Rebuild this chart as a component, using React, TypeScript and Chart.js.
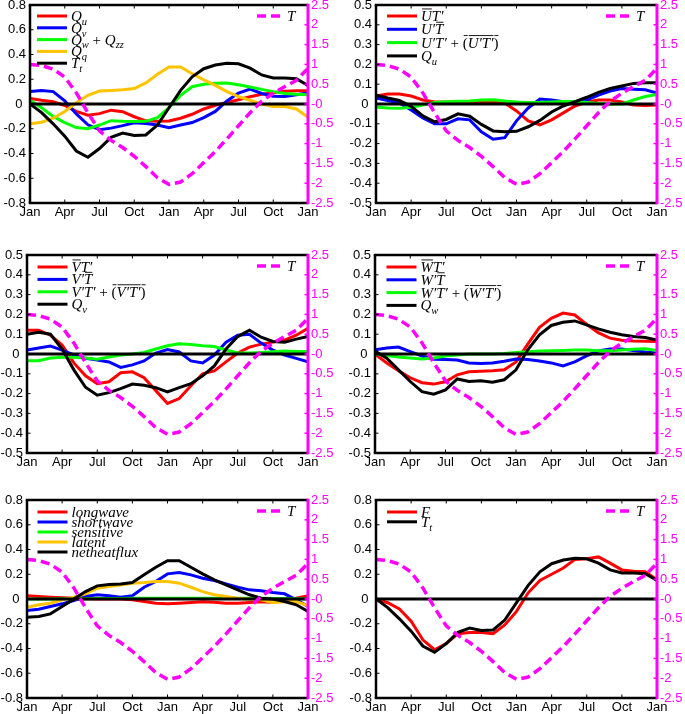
import React, { useEffect, useRef } from 'react';
import { Chart, registerables } from 'chart.js';

Chart.register(...registerables);

// ---------- axes ----------
const MONTH_INDEX = [0, 1, 2, 3, 4, 5, 6, 7, 8, 9, 10, 11, 12, 13, 14, 15, 16, 17, 18, 19, 20, 21, 22, 23, 24];
const MONTH_TICK_VALUES = [0, 3, 6, 9, 12, 15, 18, 21, 24];
const MONTH_TICK_LABELS = ['Jan', 'Apr', 'Jul', 'Oct', 'Jan', 'Apr', 'Jul', 'Oct', 'Jan'];
const T_TICK_VALUES = [-2.5, -2, -1.5, -1, -0.5, 0, 0.5, 1, 1.5, 2, 2.5];
const T_TICK_LABELS = ['-2.5', '-2', '-1.5', '-1', '-0.5', '-0', '0.5', '1', '1.5', '2', '2.5'];
const FLUX_TICKS_08 = [-0.8, -0.6, -0.4, -0.2, 0, 0.2, 0.4, 0.6, 0.8];
const FLUX_LABELS_08 = ['-0.8', '-0.6', '-0.4', '-0.2', '0 ', '0.2', '0.4', '0.6', '0.8'];
const FLUX_TICKS_05 = [-0.5, -0.4, -0.3, -0.2, -0.1, 0, 0.1, 0.2, 0.3, 0.4, 0.5];
const FLUX_LABELS_05 = ['-0.5', '-0.4', '-0.3', '-0.2', '-0.1', '0 ', '0.1', '0.2', '0.3', '0.4', '0.5'];
const ZERO_X = [0, 24];
const ZERO_Y = [0, 0];

// ---------- temperature anomaly (right axis) ----------
const T_ANOMALY = [1.0, 0.97, 0.88, 0.68, 0.28, -0.22, -0.68, -0.92, -1.1, -1.32, -1.58, -1.86, -2.03, -1.97, -1.76, -1.48, -1.2, -0.88, -0.55, -0.22, 0.07, 0.27, 0.44, 0.6, 0.9];

// ---------- panel a ----------
const QU = [0.045, 0.03, 0.018, -0.012, -0.06, -0.09, -0.078, -0.05, -0.062, -0.103, -0.136, -0.14, -0.138, -0.115, -0.083, -0.04, -0.01, 0.012, 0.034, 0.059, 0.078, 0.091, 0.104, 0.107, 0.107];
const QV = [0.1, 0.11, 0.1, 0.025, -0.08, -0.168, -0.208, -0.195, -0.175, -0.152, -0.158, -0.17, -0.192, -0.17, -0.15, -0.11, -0.06, 0.025, 0.088, 0.12, 0.085, 0.063, 0.06, 0.075, 0.088];
const QW_QZZ = [0.03, -0.03, -0.1, -0.15, -0.19, -0.2, -0.17, -0.135, -0.14, -0.142, -0.14, -0.11, -0.03, 0.07, 0.14, 0.16, 0.167, 0.17, 0.155, 0.137, 0.118, 0.1, 0.085, 0.078, 0.074];
const QQ = [-0.16, -0.147, -0.115, -0.06, 0.01, 0.07, 0.105, 0.11, 0.115, 0.125, 0.17, 0.24, 0.3, 0.3, 0.245, 0.195, 0.15, 0.1, 0.06, 0.03, 0.0, -0.02, -0.02, -0.04, -0.107];
const TT = [0, -0.07, -0.16, -0.26, -0.38, -0.43, -0.36, -0.27, -0.235, -0.255, -0.25, -0.17, -0.03, 0.11, 0.22, 0.285, 0.315, 0.33, 0.325, 0.29, 0.235, 0.21, 0.21, 0.205, 0.15];

// ---------- panel b ----------
const UBAR_TP = [0.04, 0.05, 0.05, 0.04, 0.02, 0.01, 0.01, 0.01, 0.01, 0.01, 0.01, 0.005, -0.035, -0.085, -0.105, -0.08, -0.045, -0.01, 0.01, 0.02, 0.02, 0.01, -0.005, -0.008, -0.005];
const UP_TBAR = [0.03, 0.018, 0.005, -0.03, -0.07, -0.1, -0.1, -0.075, -0.08, -0.14, -0.178, -0.17, -0.085, -0.02, 0.025, 0.02, 0.012, 0.012, 0.02, 0.045, 0.065, 0.078, 0.075, 0.072, 0.055];
const UPTP_EDDY = [-0.015, -0.02, -0.022, -0.017, -0.005, 0.008, 0.012, 0.014, 0.015, 0.02, 0.022, 0.015, 0.01, 0.007, 0.008, 0.01, 0.012, 0.012, 0.008, 0.003, 0.0, 0.0, 0.02, 0.038, 0.048];

// ---------- panel c ----------
const VBAR_TP = [0.12, 0.12, 0.095, 0.045, -0.045, -0.11, -0.15, -0.14, -0.095, -0.09, -0.12, -0.185, -0.25, -0.225, -0.16, -0.1, -0.085, -0.04, 0.005, 0.035, 0.05, 0.06, 0.07, 0.095, 0.13];
const VP_TBAR = [0.02, 0.03, 0.04, 0.02, -0.005, -0.022, -0.03, -0.04, -0.068, -0.055, -0.035, 0.005, 0.022, 0.01, -0.035, -0.045, -0.005, 0.06, 0.095, 0.1, 0.055, 0.02, -0.005, -0.022, -0.04];
const VPTP_EDDY = [-0.034, -0.034, -0.02, -0.017, -0.017, -0.02, -0.026, -0.015, -0.005, 0.0, 0.008, 0.025, 0.042, 0.052, 0.048, 0.042, 0.038, 0.02, 0.005, 0.005, 0.008, 0.012, 0.015, 0.013, 0.012];

// ---------- panel d ----------
const WBAR_TP = [0.0, -0.045, -0.085, -0.12, -0.145, -0.152, -0.14, -0.105, -0.09, -0.087, -0.085, -0.08, -0.04, 0.05, 0.135, 0.18, 0.207, 0.197, 0.15, 0.108, 0.08, 0.07, 0.066, 0.065, 0.063];
const WP_TBAR = [0.022, 0.03, 0.035, 0.012, -0.01, -0.027, -0.028, -0.03, -0.045, -0.048, -0.045, -0.037, -0.025, -0.028, -0.035, -0.045, -0.06, -0.04, -0.01, 0.015, 0.025, 0.025, 0.018, 0.01, 0.005];
const WPTP_EDDY = [0.0, -0.008, -0.015, -0.02, -0.025, -0.02, -0.01, -0.005, 0.0, 0.0, 0.0, 0.003, 0.008, 0.012, 0.015, 0.017, 0.018, 0.02, 0.02, 0.017, 0.017, 0.02, 0.024, 0.027, 0.018];
const QW = [0.015, -0.021, -0.08, -0.139, -0.19, -0.203, -0.181, -0.126, -0.139, -0.135, -0.142, -0.13, -0.08, 0.021, 0.097, 0.144, 0.16, 0.167, 0.147, 0.127, 0.11, 0.097, 0.088, 0.083, 0.071];

// ---------- panel e ----------
const LONGWAVE = [0.026, 0.02, 0.015, 0.01, 0.007, 0.003, 0.0, 0.0, 0.0, -0.007, -0.02, -0.034, -0.039, -0.034, -0.028, -0.023, -0.026, -0.034, -0.034, -0.028, -0.023, -0.026, -0.012, 0.007, 0.026];
const SHORTWAVE = [-0.093, -0.082, -0.06, -0.039, -0.012, 0.02, 0.034, 0.026, 0.015, 0.026, 0.095, 0.141, 0.203, 0.214, 0.195, 0.168, 0.149, 0.122, 0.095, 0.074, 0.066, 0.052, 0.042, -0.007, -0.06];
const SENSIBLE = [0.0, 0.0, 0.001, 0.002, 0.003, 0.003, 0.004, 0.005, 0.005, 0.006, 0.006, 0.006, 0.006, 0.006, 0.006, 0.006, 0.006, 0.006, 0.006, 0.006, 0.006, 0.005, 0.004, 0.003, 0.002];
const LATENT = [-0.066, -0.047, -0.034, -0.007, 0.015, 0.042, 0.087, 0.101, 0.114, 0.128, 0.133, 0.141, 0.141, 0.128, 0.095, 0.06, 0.034, 0.02, 0.007, -0.001, -0.007, -0.028, -0.023, -0.02, -0.055];
const NETHEATFLUX = [-0.147, -0.141, -0.12, -0.06, -0.001, 0.06, 0.106, 0.117, 0.122, 0.133, 0.195, 0.257, 0.31, 0.31, 0.257, 0.203, 0.155, 0.114, 0.074, 0.034, 0.007, -0.001, -0.02, -0.047, -0.1];

// ---------- panel f ----------
const F_FORCING = [0, -0.03, -0.08, -0.18, -0.33, -0.41, -0.36, -0.28, -0.27, -0.27, -0.28, -0.21, -0.1, 0.05, 0.15, 0.2, 0.25, 0.32, 0.325, 0.34, 0.29, 0.235, 0.225, 0.22, 0.155];

// ---------- styling ----------
const RED = '#ff0000';
const BLUE = '#0000ff';
const GREEN = '#00ff00';
const YELLOW = '#ffc300';
const BLACK = '#000000';
const MAGENTA = '#ff00ff';

type Seg = { t: string; sub?: boolean; over?: boolean; up?: boolean };
interface SeriesDef { label: Seg[]; data: number[]; color: string }
interface PanelDef {
  id: string; x: number; y: number; w: number; h: number; padTop: number;
  leftW: number; rightW: number; xH: number;
  yVals: number[]; yLabels: string[];
  legendX: number; legendY0: number; legendGap: number; fontSize: number;
  series: SeriesDef[];
}

const L_QU: Seg[] = [{ t: 'Q' }, { t: 'u', sub: true }];
const L_QV: Seg[] = [{ t: 'Q' }, { t: 'v', sub: true }];
const L_QW: Seg[] = [{ t: 'Q' }, { t: 'w', sub: true }];
const L_TT: Seg[] = [{ t: 'T' }, { t: 't', sub: true }];

function eddyLabel(c: string): Seg[] {
  return [
    { t: c + '′T′' }, { t: ' + ', up: true },
    { t: '(', up: true, over: true }, { t: c + '′T′', over: true }, { t: ')', up: true, over: true },
  ];
}

const PANELS: PanelDef[] = [
  {
    id: 'a', x: 0, y: -10, w: 342, h: 232, padTop: 15, leftW: 30, rightW: 34, xH: 19,
    yVals: FLUX_TICKS_08, yLabels: FLUX_LABELS_08, legendX: 7, legendY0: 11, legendGap: 11.8, fontSize: 15,
    series: [
      { label: L_QU, data: QU, color: RED },
      { label: L_QV, data: QV, color: BLUE },
      { label: [{ t: 'Q' }, { t: 'w', sub: true }, { t: ' + ', up: true }, { t: 'Q' }, { t: 'zz', sub: true }], data: QW_QZZ, color: GREEN },
      { label: [{ t: 'Q' }, { t: 'q', sub: true }], data: QQ, color: YELLOW },
      { label: L_TT, data: TT, color: BLACK },
    ],
  },
  {
    id: 'b', x: 345, y: -10, w: 340, h: 232, padTop: 15, leftW: 31, rightW: 28, xH: 19,
    yVals: FLUX_TICKS_05, yLabels: FLUX_LABELS_05, legendX: 11, legendY0: 11, legendGap: 13.3, fontSize: 15,
    series: [
      { label: [{ t: 'U', over: true }, { t: 'T′' }], data: UBAR_TP, color: RED },
      { label: [{ t: 'U′' }, { t: 'T', over: true }], data: UP_TBAR, color: BLUE },
      { label: eddyLabel('U'), data: UPTP_EDDY, color: GREEN },
      { label: L_QU, data: QU, color: BLACK },
    ],
  },
  {
    id: 'c', x: 0, y: 240, w: 342, h: 232, padTop: 15, leftW: 27, rightW: 34, xH: 19,
    yVals: FLUX_TICKS_05, yLabels: FLUX_LABELS_05, legendX: 10.5, legendY0: 12, legendGap: 12.4, fontSize: 15,
    series: [
      { label: [{ t: 'V', over: true }, { t: 'T′' }], data: VBAR_TP, color: RED },
      { label: [{ t: 'V′' }, { t: 'T', over: true }], data: VP_TBAR, color: BLUE },
      { label: eddyLabel('V'), data: VPTP_EDDY, color: GREEN },
      { label: L_QV, data: QV, color: BLACK },
    ],
  },
  {
    id: 'd', x: 345, y: 240, w: 340, h: 232, padTop: 15, leftW: 30, rightW: 28, xH: 19,
    yVals: FLUX_TICKS_05, yLabels: FLUX_LABELS_05, legendX: 11.5, legendY0: 12, legendGap: 12.8, fontSize: 15,
    series: [
      { label: [{ t: 'W', over: true }, { t: 'T′' }], data: WBAR_TP, color: RED },
      { label: [{ t: 'W′' }, { t: 'T', over: true }], data: WP_TBAR, color: BLUE },
      { label: eddyLabel('W'), data: WPTP_EDDY, color: GREEN },
      { label: L_QW, data: QW, color: BLACK },
    ],
  },
  {
    id: 'e', x: 0, y: 485, w: 342, h: 229, padTop: 15, leftW: 27, rightW: 34, xH: 16,
    yVals: FLUX_TICKS_08, yLabels: FLUX_LABELS_08, legendX: 10.5, legendY0: 12, legendGap: 10, fontSize: 15,
    series: [
      { label: [{ t: 'longwave' }], data: LONGWAVE, color: RED },
      { label: [{ t: 'shortwave' }], data: SHORTWAVE, color: BLUE },
      { label: [{ t: 'sensitive' }], data: SENSIBLE, color: GREEN },
      { label: [{ t: 'latent' }], data: LATENT, color: YELLOW },
      { label: [{ t: 'netheatflux' }], data: NETHEATFLUX, color: BLACK },
    ],
  },
  {
    id: 'f', x: 345, y: 485, w: 340, h: 229, padTop: 15, leftW: 31, rightW: 28, xH: 16,
    yVals: FLUX_TICKS_08, yLabels: FLUX_LABELS_08, legendX: 11, legendY0: 12, legendGap: 9.8, fontSize: 15,
    series: [
      { label: [{ t: 'F' }], data: F_FORCING, color: RED },
      { label: L_TT, data: TT, color: BLACK },
    ],
  },
];

const SERIF = '"Liberation Serif", "DejaVu Serif", serif';
const SANS = '"Liberation Sans", Arial, sans-serif';

function drawMath(ctx: CanvasRenderingContext2D, segs: Seg[], x: number, y: number, size: number) {
  let cx = x;
  const base = y + size * 0.33;
  ctx.fillStyle = BLACK;
  ctx.textAlign = 'left';
  ctx.textBaseline = 'alphabetic';
  for (const s of segs) {
    const fs = s.sub ? size * 0.7 : size;
    ctx.font = `${s.up ? '' : 'italic '}${fs}px ${SERIF}`;
    const dy = s.sub ? size * 0.25 : 0;
    ctx.fillText(s.t, cx, base + dy);
    const w = ctx.measureText(s.t).width;
    if (s.over) {
      ctx.strokeStyle = BLACK;
      ctx.lineWidth = 0.9;
      ctx.beginPath();
      const oy = base - size * 0.8;
      ctx.moveTo(cx + 1, oy);
      ctx.lineTo(cx + w, oy);
      ctx.stroke();
    }
    cx += w;
  }
}

function Panel({ p }: { p: PanelDef }) {
  const ref = useRef<HTMLCanvasElement>(null);
  useEffect(() => {
    const canvas = ref.current;
    if (!canvas) return;
    const toPts = (ys: number[]) => ys.map((y, i) => ({ x: MONTH_INDEX[i], y }));
    const n = p.series.length;
    const datasets: any[] = p.series.map((s, i) => ({
      data: toPts(s.data), borderColor: s.color, borderWidth: 3, pointRadius: 0,
      tension: 0, fill: false, yAxisID: 'y', order: 2 + (n - i),
    }));
    datasets.push({
      data: ZERO_X.map((x, i) => ({ x, y: ZERO_Y[i] })), borderColor: BLACK, borderWidth: 3,
      pointRadius: 0, tension: 0, fill: false, yAxisID: 'y', order: 1,
    });
    datasets.push({
      data: toPts(T_ANOMALY), borderColor: MAGENTA, borderWidth: 3.5, borderDash: [9, 5],
      pointRadius: 0, tension: 0, fill: false, yAxisID: 'y2', order: 0,
    });

    const framePlugin = {
      id: 'frame' + p.id,
      afterDatasetsDraw(chart: any) {
        const { ctx, chartArea: a, scales } = chart;
        ctx.save();
        ctx.setLineDash([]);
        ctx.lineCap = 'butt';
        const line = (x1: number, y1: number, x2: number, y2: number) => {
          ctx.beginPath(); ctx.moveTo(x1, y1); ctx.lineTo(x2, y2); ctx.stroke();
        };
        const tl = 3.5;
        ctx.strokeStyle = BLACK; ctx.lineWidth = 1;
        for (const v of MONTH_TICK_VALUES) {
          const x = scales.x.getPixelForValue(v);
          line(x, a.bottom, x, a.bottom - tl);
          line(x, a.top, x, a.top + tl);
        }
        for (const v of p.yVals) {
          const y = scales.y.getPixelForValue(v);
          line(a.left, y, a.left + tl, y);
        }
        ctx.strokeStyle = MAGENTA; ctx.lineWidth = 1.5;
        for (const v of T_TICK_VALUES) {
          const y = scales.y2.getPixelForValue(v);
          line(a.right, y, a.right - tl, y);
        }
        ctx.strokeStyle = BLACK; ctx.lineWidth = 2.5;
        line(a.left - 1.25, a.top, a.right, a.top);
        line(a.left - 1.25, a.bottom, a.right, a.bottom);
        line(a.left, a.top, a.left, a.bottom);
        ctx.strokeStyle = MAGENTA; ctx.lineWidth = 3;
        line(a.right, a.top - 1.25, a.right, a.bottom + 1.25);
        ctx.restore();
      },
    };

    const legendPlugin = {
      id: 'mathLegend' + p.id,
      afterDraw(chart: any) {
        const { ctx, chartArea: a } = chart;
        ctx.save();
        const x0 = a.left + p.legendX;
        p.series.forEach((s, i) => {
          const y = a.top + p.legendY0 + i * p.legendGap;
          ctx.strokeStyle = s.color; ctx.lineWidth = 3; ctx.setLineDash([]);
          ctx.beginPath(); ctx.moveTo(x0, y); ctx.lineTo(x0 + 30, y); ctx.stroke();
          drawMath(ctx, s.label, x0 + 34, y, p.fontSize);
        });
        const ty = a.top + 11;
        ctx.strokeStyle = MAGENTA; ctx.lineWidth = 3.5; ctx.setLineDash([9, 5]);
        ctx.beginPath(); ctx.moveTo(a.right - 51, ty); ctx.lineTo(a.right - 26, ty); ctx.stroke();
        ctx.setLineDash([]);
        drawMath(ctx, [{ t: 'T' }], a.right - 21, ty, 15);
        ctx.restore();
      },
    };

    const tickFont = { family: SANS, size: 13 };
    const chart = new Chart(canvas, {
      type: 'line',
      data: { datasets },
      options: {
        responsive: false,
        animation: false,
        devicePixelRatio: 1,
        events: [],
        layout: { padding: { top: p.padTop, left: 0, right: 0, bottom: 0 } },
        plugins: { legend: { display: false }, tooltip: { enabled: false } },
        scales: {
          x: {
            type: 'linear', min: 0, max: 24,
            grid: { display: false, drawTicks: false }, border: { display: false },
            afterBuildTicks: (s: any) => { s.ticks = MONTH_TICK_VALUES.map((v) => ({ value: v })); },
            afterFit: (s: any) => { s.height = p.xH; },
            ticks: {
              autoSkip: false, maxRotation: 0, minRotation: 0, padding: 2, color: BLACK, font: tickFont,
              callback: (_v: any, i: number) => MONTH_TICK_LABELS[i],
            },
          },
          y: {
            type: 'linear', position: 'left', min: p.yVals[0], max: p.yVals[p.yVals.length - 1],
            grid: { display: false, drawTicks: false }, border: { display: false },
            afterBuildTicks: (s: any) => { s.ticks = p.yVals.map((v) => ({ value: v })); },
            afterFit: (s: any) => { s.width = p.leftW; },
            ticks: {
              autoSkip: false, padding: 4, color: BLACK, font: tickFont,
              callback: (_v: any, i: number) => p.yLabels[i],
            },
          },
          y2: {
            type: 'linear', position: 'right', min: -2.5, max: 2.5,
            grid: { display: false, drawTicks: false }, border: { display: false },
            afterBuildTicks: (s: any) => { s.ticks = T_TICK_VALUES.map((v) => ({ value: v })); },
            afterFit: (s: any) => { s.width = p.rightW; },
            ticks: {
              autoSkip: false, padding: 3, color: MAGENTA, font: tickFont,
              callback: (_v: any, i: number) => T_TICK_LABELS[i],
            },
          },
        },
      } as any,
      plugins: [framePlugin, legendPlugin],
    });
    return () => chart.destroy();
  }, [p]);
  return (
    <canvas
      ref={ref}
      width={p.w}
      height={p.h}
      style={{ position: 'absolute', left: p.x, top: p.y, width: p.w, height: p.h }}
    />
  );
}

export default function App() {
  return (
    <div style={{ position: 'absolute', left: 0, top: 0, width: 685, height: 714, overflow: 'hidden', background: '#ffffff' }}>
      {PANELS.map((p) => <Panel key={p.id} p={p} />)}
    </div>
  );
}
